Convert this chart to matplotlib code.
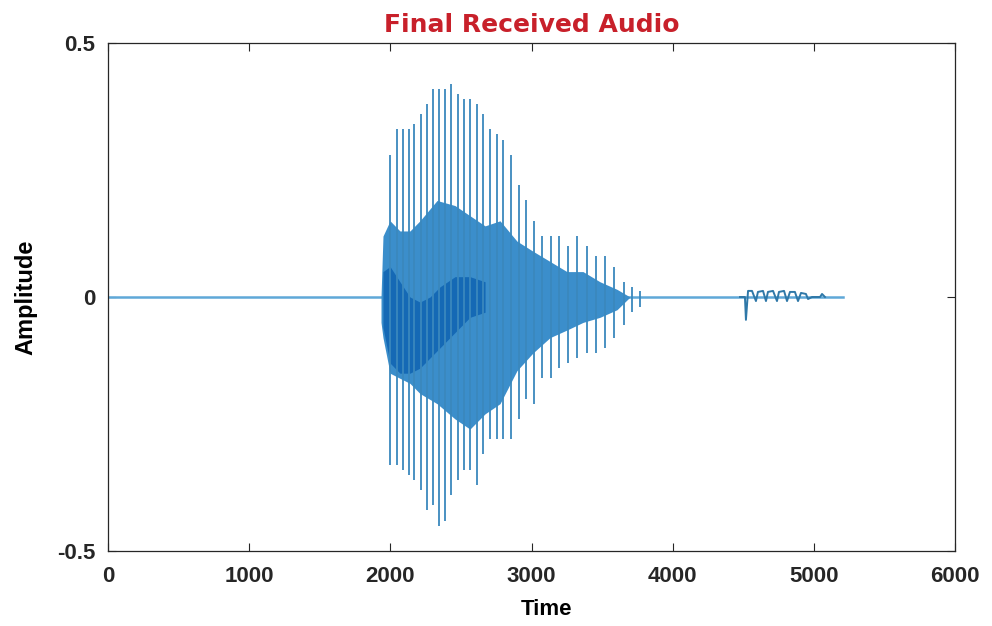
import matplotlib
matplotlib.use("Agg")
import matplotlib.pyplot as plt

# ---------------- data ----------------
# pitch pulses: time, positive peak, negative peak
pulse_t = [1998, 2047, 2090, 2132, 2168, 2217, 2260, 2302, 2345, 2387,
           2430, 2479, 2522, 2564, 2614, 2656, 2706, 2756, 2798, 2855,
           2911, 2961, 3018, 3074, 3138, 3195, 3258, 3322, 3393, 3457,
           3521, 3584, 3655, 3712, 3769]
pulse_hi = [0.28, 0.33, 0.33, 0.33, 0.34, 0.36, 0.38, 0.41, 0.41, 0.41,
            0.42, 0.40, 0.39, 0.39, 0.38, 0.36, 0.33, 0.32, 0.31, 0.28,
            0.22, 0.19, 0.15, 0.12, 0.12, 0.12, 0.10, 0.12, 0.10, 0.08,
            0.08, 0.06, 0.03, 0.02, 0.012]
pulse_lo = [-0.33, -0.33, -0.34, -0.35, -0.36, -0.38, -0.42, -0.41, -0.45, -0.44,
            -0.39, -0.36, -0.34, -0.34, -0.37, -0.31, -0.28, -0.28, -0.28, -0.28,
            -0.24, -0.20, -0.21, -0.16, -0.16, -0.14, -0.13, -0.12, -0.11, -0.11,
            -0.10, -0.08, -0.055, -0.03, -0.02]

# dense oscillation band (envelope)
band_t = [1934, 1948, 1998, 2068, 2139, 2210, 2331, 2458, 2564, 2671,
          2777, 2897, 3011, 3131, 3251, 3365, 3485, 3606, 3698]
band_hi = [0.0, 0.12, 0.15, 0.13, 0.13, 0.15, 0.19, 0.18, 0.16, 0.14,
           0.15, 0.11, 0.09, 0.07, 0.05, 0.05, 0.03, 0.015, 0.0]
band_lo = [-0.05, -0.08, -0.15, -0.16, -0.17, -0.19, -0.21, -0.24, -0.26, -0.23,
           -0.21, -0.145, -0.11, -0.08, -0.065, -0.05, -0.04, -0.025, 0.0]

# darker low-frequency core
core_t = [1948, 1998, 2068, 2139, 2210, 2281, 2352, 2458, 2564, 2671]
core_hi = [0.05, 0.06, 0.03, 0.0, -0.01, 0.0, 0.02, 0.04, 0.04, 0.03]
core_lo = [-0.06, -0.13, -0.15, -0.15, -0.14, -0.12, -0.10, -0.07, -0.04, -0.03]

# small late burst
tail_t = [4477, 4512, 4519, 4534, 4562, 4590, 4604, 4640, 4661, 4675,
          4711, 4739, 4753, 4789, 4810, 4831, 4866, 4888, 4909, 4944,
          4959, 4987, 5044, 5058, 5079]
tail_y = [0.0, 0.0, -0.045, 0.012, 0.012, -0.008, 0.01, 0.012, -0.008, 0.01,
          0.012, -0.008, 0.01, 0.012, -0.008, 0.01, 0.01, -0.008, 0.008, 0.006,
          -0.004, 0.0, 0.0, 0.006, 0.0]

base_t = [0, 5207]
base_y = [0.0, 0.0]

x_ticks = [0, 1000, 2000, 3000, 4000, 5000, 6000]
y_ticks = [-0.5, 0, 0.5]
y_tick_labels = ["-0.5", "0", "0.5"]

# ---------------- style ----------------
plt.rcParams["font.family"] = ["Liberation Sans", "DejaVu Sans"]

fig = plt.figure(figsize=(9.92, 6.26), dpi=100)
ax = fig.add_axes([108 / 992, 75 / 626, 847 / 992, 508 / 626])

ax.plot(base_t, base_y, color="#5fa8d8", lw=1.8, zorder=2)
ax.plot(tail_t, tail_y, color="#2f78a8", lw=1.4, zorder=3)
ax.fill_between(band_t, band_lo, band_hi, color="#3b8ecb", lw=0, zorder=3)
ax.fill_between(core_t, core_lo, core_hi, color="#1569b5", lw=0, zorder=4)
ax.vlines(pulse_t, pulse_lo, pulse_hi, color="#3a88bd", lw=1.3, zorder=5)

ax.set_xlim(0, 6000)
ax.set_ylim(-0.5, 0.5)
ax.set_xticks(x_ticks)
ax.set_yticks(y_ticks)
ax.set_yticklabels(y_tick_labels)
ax.tick_params(direction="in", top=True, right=True, length=6, width=0.8,
               labelsize=16, colors="#262626")
ax.tick_params(axis="x", pad=11)
ax.tick_params(axis="y", pad=9)
for lab in ax.get_xticklabels() + ax.get_yticklabels():
    lab.set_fontweight("bold")
for s in ax.spines.values():
    s.set_linewidth(0.9)
    s.set_color("#262626")

ax.set_title("Final Received Audio", color="#c8202a", fontsize=18,
             fontweight="bold", pad=8, family=["DejaVu Sans"])
ax.set_xlabel("Time", fontsize=16, fontweight="bold")
ax.xaxis.set_label_coords(0.518, -0.095)
ax.set_ylabel("Amplitude", fontsize=17, fontweight="bold")
ax.yaxis.set_label_coords(-0.083, 0.5)

fig.savefig("out.png", dpi=100)
